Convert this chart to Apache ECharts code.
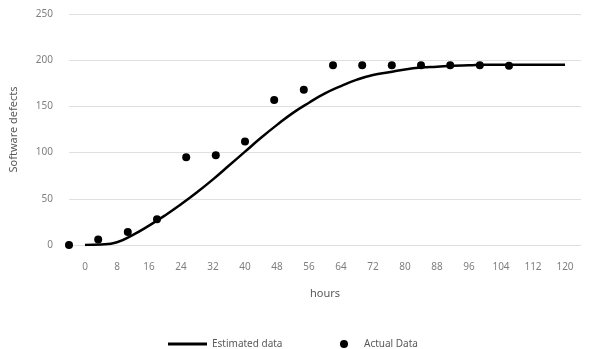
<!DOCTYPE html>
<html>
<head>
<meta charset="utf-8">
<script src="https://cdn.jsdelivr.net/npm/echarts@6/dist/echarts.min.js"></script>
<style>
  html, body { margin: 0; padding: 0; background: #fff; }
  #chart { width: 590px; height: 349px; }
</style>
</head>
<body>
<div id="chart"></div>
<script>
// estimated (model) curve, hours vs defects
const estHours = [0, 4, 8, 12, 16, 20, 24, 28, 32, 36, 40, 44, 48, 52, 56, 60, 64, 68, 72, 76, 80, 84, 88, 92, 96, 100, 104, 108, 112, 116, 120]
const estDefects = [0, 0.5, 3, 11, 21, 32, 44, 57, 71, 86, 101, 116, 130, 143, 154, 164, 172, 179, 184, 187, 190, 192, 193, 194, 194.5, 195, 195, 195, 195, 195, 195]

// observed points
const actHours = [-4, 3.3, 10.7, 18, 25.3, 32.7, 40, 47.3, 54.7, 62, 69.3, 76.7, 84, 91.3, 98.7, 106]
const actDefects = [0, 6, 14, 28, 95, 97, 112, 157, 168, 194.5, 194.5, 194.5, 194.5, 194.5, 194.5, 194]

const xTicks = [0, 8, 16, 24, 32, 40, 48, 56, 64, 72, 80, 88, 96, 104, 112, 120]

const textGray = '#595959'
const font = 'Noto Sans'

let chart = echarts.init(document.getElementById('chart'))

let option = {
  animation: false,
  grid: {
    left: 65,
    right: 9,
    top: 14,
    bottom: 104
  },
  xAxis: {
    type: 'value',
    min: -4,
    max: 124,
    interval: 4,
    name: 'hours',
    nameLocation: 'middle',
    nameGap: 43,
    nameTextStyle: { color: textGray, fontSize: 11, fontFamily: font },
    axisLine: { show: false },
    axisTick: { show: false },
    splitLine: { show: false },
    axisLabel: {
      color: '#7f7f7f',
      fontSize: 10,
      fontFamily: font,
      margin: 17,
      formatter: v => xTicks.includes(v) ? String(v) : ''
    }
  },
  yAxis: {
    type: 'value',
    min: 0,
    max: 250,
    interval: 50,
    name: 'Software defects',
    nameLocation: 'middle',
    nameGap: 50,
    nameTextStyle: { color: textGray, fontSize: 11, fontFamily: font },
    axisLine: { show: false },
    axisTick: { show: false },
    splitLine: { lineStyle: { color: '#e0e0e0', width: 1 } },
    axisLabel: { color: '#7f7f7f', fontSize: 10, fontFamily: font, margin: 16 }
  },
  legend: [
    {
      data: [{ name: 'Estimated data', icon: 'rect' }],
      left: 163,
      top: 334,
      itemWidth: 39,
      itemHeight: 3,
      textStyle: { color: textGray, fontSize: 10, fontFamily: font }
    },
    {
      data: ['Actual Data'],
      left: 335,
      top: 334,
      itemWidth: 30,
      itemHeight: 8,
      textStyle: { color: textGray, fontSize: 10, fontFamily: font }
    }
  ],
  series: [
    {
      name: 'Estimated data',
      type: 'line',
      smooth: true,
      symbol: 'none',
      data: estHours.map((h, i) => [h, estDefects[i]]),
      lineStyle: { color: '#000', width: 2.5 },
      itemStyle: { color: '#000' },
      z: 2
    },
    {
      name: 'Actual Data',
      type: 'scatter',
      symbol: 'circle',
      symbolSize: 8,
      data: actHours.map((h, i) => [h, actDefects[i]]),
      itemStyle: { color: '#000', opacity: 1 },
      z: 3
    }
  ]
}

chart.setOption(option)
</script>
</body>
</html>
